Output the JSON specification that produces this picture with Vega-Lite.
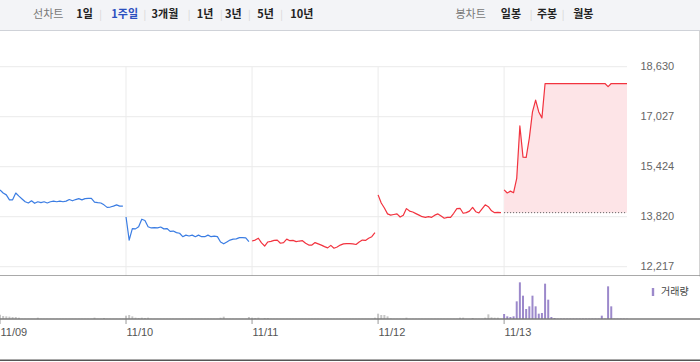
{
"$schema":"https://vega.github.io/schema/vega-lite/v6.json",
"background":"#ffffff",
"padding":0,
"spacing":0,
"bounds":"flush",
"config":{"view":{"stroke":null},"font":"Noto Sans CJK KR"},
"resolve":{"scale":{"color":"independent"}},
"datasets":{
"days":[{"t":"11/09 09:00"},{"t":"11/10 09:00"},{"t":"11/11 09:00"},{"t":"11/12 09:00"},{"t":"11/13 09:00"}],
"series":[
{"t":"11/09 09:00","d":"11/09","p":14680,"v":130},{"t":"11/09 09:10","d":"11/09","p":14580,"v":90},{"t":"11/09 09:20","d":"11/09","p":14520,"v":80},{"t":"11/09 09:30","d":"11/09","p":14360,"v":70},{"t":"11/09 09:40","d":"11/09","p":14360,"v":60},{"t":"11/09 09:50","d":"11/09","p":14580,"v":60},{"t":"11/09 10:00","d":"11/09","p":14480,"v":40},{"t":"11/09 10:10","d":"11/09","p":14390,"v":5},{"t":"11/09 10:20","d":"11/09","p":14300,"v":5},{"t":"11/09 10:30","d":"11/09","p":14260,"v":5},
{"t":"11/09 10:40","d":"11/09","p":14330,"v":5},{"t":"11/09 10:50","d":"11/09","p":14250,"v":5},{"t":"11/09 11:00","d":"11/09","p":14300,"v":40},{"t":"11/09 11:10","d":"11/09","p":14270,"v":5},{"t":"11/09 11:20","d":"11/09","p":14300,"v":5},{"t":"11/09 11:30","d":"11/09","p":14260,"v":5},{"t":"11/09 11:40","d":"11/09","p":14300,"v":5},{"t":"11/09 11:50","d":"11/09","p":14320,"v":5},{"t":"11/09 12:00","d":"11/09","p":14300,"v":5},{"t":"11/09 12:10","d":"11/09","p":14320,"v":5},
{"t":"11/09 12:20","d":"11/09","p":14300,"v":5},{"t":"11/09 12:30","d":"11/09","p":14320,"v":5},{"t":"11/09 12:40","d":"11/09","p":14370,"v":5},{"t":"11/09 12:50","d":"11/09","p":14330,"v":5},{"t":"11/09 13:00","d":"11/09","p":14370,"v":5},{"t":"11/09 13:10","d":"11/09","p":14400,"v":5},{"t":"11/09 13:20","d":"11/09","p":14360,"v":5},{"t":"11/09 13:30","d":"11/09","p":14400,"v":5},{"t":"11/09 13:40","d":"11/09","p":14410,"v":5},{"t":"11/09 13:50","d":"11/09","p":14410,"v":5},
{"t":"11/09 14:00","d":"11/09","p":14290,"v":40},{"t":"11/09 14:10","d":"11/09","p":14270,"v":5},{"t":"11/09 14:20","d":"11/09","p":14260,"v":5},{"t":"11/09 14:30","d":"11/09","p":14200,"v":30},{"t":"11/09 14:40","d":"11/09","p":14120,"v":5},{"t":"11/09 14:50","d":"11/09","p":14130,"v":5},{"t":"11/09 15:00","d":"11/09","p":14160,"v":5},{"t":"11/09 15:10","d":"11/09","p":14200,"v":5},{"t":"11/09 15:20","d":"11/09","p":14160,"v":5},{"t":"11/09 15:30","d":"11/09","p":14160,"v":5},
{"t":"11/10 09:00","d":"11/10","p":13810,"v":100},{"t":"11/10 09:10","d":"11/10","p":13070,"v":120},{"t":"11/10 09:20","d":"11/10","p":13440,"v":80},{"t":"11/10 09:30","d":"11/10","p":13430,"v":40},{"t":"11/10 09:40","d":"11/10","p":13500,"v":30},{"t":"11/10 09:50","d":"11/10","p":13740,"v":40},{"t":"11/10 10:00","d":"11/10","p":13700,"v":30},{"t":"11/10 10:10","d":"11/10","p":13500,"v":40},{"t":"11/10 10:20","d":"11/10","p":13460,"v":5},{"t":"11/10 10:30","d":"11/10","p":13470,"v":5},
{"t":"11/10 10:40","d":"11/10","p":13460,"v":5},{"t":"11/10 10:50","d":"11/10","p":13490,"v":5},{"t":"11/10 11:00","d":"11/10","p":13430,"v":5},{"t":"11/10 11:10","d":"11/10","p":13440,"v":5},{"t":"11/10 11:20","d":"11/10","p":13350,"v":5},{"t":"11/10 11:30","d":"11/10","p":13360,"v":5},{"t":"11/10 11:40","d":"11/10","p":13310,"v":5},{"t":"11/10 11:50","d":"11/10","p":13290,"v":5},{"t":"11/10 12:00","d":"11/10","p":13180,"v":5},{"t":"11/10 12:10","d":"11/10","p":13230,"v":5},
{"t":"11/10 12:20","d":"11/10","p":13200,"v":5},{"t":"11/10 12:30","d":"11/10","p":13230,"v":5},{"t":"11/10 12:40","d":"11/10","p":13180,"v":5},{"t":"11/10 12:50","d":"11/10","p":13230,"v":5},{"t":"11/10 13:00","d":"11/10","p":13180,"v":5},{"t":"11/10 13:10","d":"11/10","p":13180,"v":5},{"t":"11/10 13:20","d":"11/10","p":13230,"v":5},{"t":"11/10 13:30","d":"11/10","p":13180,"v":5},{"t":"11/10 13:40","d":"11/10","p":13200,"v":5},{"t":"11/10 13:50","d":"11/10","p":13180,"v":5},
{"t":"11/10 14:00","d":"11/10","p":13010,"v":40},{"t":"11/10 14:10","d":"11/10","p":12950,"v":70},{"t":"11/10 14:20","d":"11/10","p":13010,"v":5},{"t":"11/10 14:30","d":"11/10","p":13070,"v":5},{"t":"11/10 14:40","d":"11/10","p":13100,"v":5},{"t":"11/10 14:50","d":"11/10","p":13110,"v":5},{"t":"11/10 15:00","d":"11/10","p":13150,"v":5},{"t":"11/10 15:10","d":"11/10","p":13150,"v":5},{"t":"11/10 15:20","d":"11/10","p":13140,"v":5},{"t":"11/10 15:30","d":"11/10","p":13020,"v":60},
{"t":"11/11 09:00","d":"11/11","p":13040,"v":40},{"t":"11/11 09:10","d":"11/11","p":13070,"v":30},{"t":"11/11 09:20","d":"11/11","p":13130,"v":40},{"t":"11/11 09:30","d":"11/11","p":12980,"v":5},{"t":"11/11 09:40","d":"11/11","p":12880,"v":30},{"t":"11/11 09:50","d":"11/11","p":13010,"v":30},{"t":"11/11 10:00","d":"11/11","p":13030,"v":5},{"t":"11/11 10:10","d":"11/11","p":13060,"v":5},{"t":"11/11 10:20","d":"11/11","p":13070,"v":5},{"t":"11/11 10:30","d":"11/11","p":12970,"v":5},
{"t":"11/11 10:40","d":"11/11","p":12990,"v":5},{"t":"11/11 10:50","d":"11/11","p":13100,"v":5},{"t":"11/11 11:00","d":"11/11","p":13050,"v":5},{"t":"11/11 11:10","d":"11/11","p":13060,"v":5},{"t":"11/11 11:20","d":"11/11","p":13020,"v":5},{"t":"11/11 11:30","d":"11/11","p":13040,"v":5},{"t":"11/11 11:40","d":"11/11","p":13050,"v":5},{"t":"11/11 11:50","d":"11/11","p":12970,"v":5},{"t":"11/11 12:00","d":"11/11","p":12910,"v":5},{"t":"11/11 12:10","d":"11/11","p":12910,"v":5},
{"t":"11/11 12:20","d":"11/11","p":12990,"v":5},{"t":"11/11 12:30","d":"11/11","p":12950,"v":5},{"t":"11/11 12:40","d":"11/11","p":12910,"v":5},{"t":"11/11 12:50","d":"11/11","p":12860,"v":5},{"t":"11/11 13:00","d":"11/11","p":12820,"v":5},{"t":"11/11 13:10","d":"11/11","p":12900,"v":5},{"t":"11/11 13:20","d":"11/11","p":12810,"v":5},{"t":"11/11 13:30","d":"11/11","p":12850,"v":5},{"t":"11/11 13:40","d":"11/11","p":12910,"v":5},{"t":"11/11 13:50","d":"11/11","p":12950,"v":5},
{"t":"11/11 14:00","d":"11/11","p":12960,"v":5},{"t":"11/11 14:10","d":"11/11","p":12960,"v":5},{"t":"11/11 14:20","d":"11/11","p":12950,"v":5},{"t":"11/11 14:30","d":"11/11","p":12930,"v":5},{"t":"11/11 14:40","d":"11/11","p":13010,"v":5},{"t":"11/11 14:50","d":"11/11","p":13070,"v":5},{"t":"11/11 15:00","d":"11/11","p":13060,"v":5},{"t":"11/11 15:10","d":"11/11","p":13130,"v":5},{"t":"11/11 15:20","d":"11/11","p":13180,"v":5},{"t":"11/11 15:30","d":"11/11","p":13310,"v":40},
{"t":"11/12 09:00","d":"11/12","p":14520,"v":160},{"t":"11/12 09:10","d":"11/12","p":14260,"v":120},{"t":"11/12 09:20","d":"11/12","p":14100,"v":120},{"t":"11/12 09:30","d":"11/12","p":13910,"v":80},{"t":"11/12 09:40","d":"11/12","p":13870,"v":15},{"t":"11/12 09:50","d":"11/12","p":13890,"v":5},{"t":"11/12 10:00","d":"11/12","p":13910,"v":5},{"t":"11/12 10:10","d":"11/12","p":13810,"v":5},{"t":"11/12 10:20","d":"11/12","p":13870,"v":5},{"t":"11/12 10:30","d":"11/12","p":14080,"v":40},
{"t":"11/12 10:40","d":"11/12","p":14000,"v":5},{"t":"11/12 10:50","d":"11/12","p":13970,"v":5},{"t":"11/12 11:00","d":"11/12","p":13920,"v":5},{"t":"11/12 11:10","d":"11/12","p":13870,"v":5},{"t":"11/12 11:20","d":"11/12","p":13820,"v":5},{"t":"11/12 11:30","d":"11/12","p":13800,"v":5},{"t":"11/12 11:40","d":"11/12","p":13820,"v":5},{"t":"11/12 11:50","d":"11/12","p":13800,"v":5},{"t":"11/12 12:00","d":"11/12","p":13870,"v":5},{"t":"11/12 12:10","d":"11/12","p":13910,"v":5},
{"t":"11/12 12:20","d":"11/12","p":13840,"v":5},{"t":"11/12 12:30","d":"11/12","p":13770,"v":5},{"t":"11/12 12:40","d":"11/12","p":13800,"v":5},{"t":"11/12 12:50","d":"11/12","p":13800,"v":5},{"t":"11/12 13:00","d":"11/12","p":13930,"v":5},{"t":"11/12 13:10","d":"11/12","p":14080,"v":5},{"t":"11/12 13:20","d":"11/12","p":14090,"v":40},{"t":"11/12 13:30","d":"11/12","p":13930,"v":40},{"t":"11/12 13:40","d":"11/12","p":13950,"v":5},{"t":"11/12 13:50","d":"11/12","p":14000,"v":5},
{"t":"11/12 14:00","d":"11/12","p":14120,"v":30},{"t":"11/12 14:10","d":"11/12","p":13980,"v":5},{"t":"11/12 14:20","d":"11/12","p":13940,"v":5},{"t":"11/12 14:30","d":"11/12","p":14070,"v":5},{"t":"11/12 14:40","d":"11/12","p":14200,"v":40},{"t":"11/12 14:50","d":"11/12","p":14140,"v":140},{"t":"11/12 15:00","d":"11/12","p":14010,"v":50},{"t":"11/12 15:10","d":"11/12","p":13950,"v":40},{"t":"11/12 15:20","d":"11/12","p":13960,"v":40},{"t":"11/12 15:30","d":"11/12","p":13950,"v":5},
{"t":"11/13 09:00","d":"11/13","p":14680,"v":150},{"t":"11/13 09:10","d":"11/13","p":14580,"v":80},{"t":"11/13 09:20","d":"11/13","p":14640,"v":60},{"t":"11/13 09:30","d":"11/13","p":14590,"v":80},{"t":"11/13 09:40","d":"11/13","p":15050,"v":530},{"t":"11/13 09:50","d":"11/13","p":16730,"v":1100},{"t":"11/13 10:00","d":"11/13","p":15730,"v":700},{"t":"11/13 10:10","d":"11/13","p":15720,"v":300},{"t":"11/13 10:20","d":"11/13","p":16340,"v":380},{"t":"11/13 10:30","d":"11/13","p":17180,"v":700},
{"t":"11/13 10:40","d":"11/13","p":17560,"v":380},{"t":"11/13 10:50","d":"11/13","p":17180,"v":160},{"t":"11/13 11:00","d":"11/13","p":16990,"v":180},{"t":"11/13 11:10","d":"11/13","p":18090,"v":1060},{"t":"11/13 11:20","d":"11/13","p":18090,"v":580},{"t":"11/13 11:30","d":"11/13","p":18090,"v":60},{"t":"11/13 11:40","d":"11/13","p":18090,"v":30},{"t":"11/13 11:50","d":"11/13","p":18090,"v":10},{"t":"11/13 12:00","d":"11/13","p":18090,"v":10},{"t":"11/13 12:10","d":"11/13","p":18090,"v":10},
{"t":"11/13 12:20","d":"11/13","p":18090,"v":10},{"t":"11/13 12:30","d":"11/13","p":18090,"v":10},{"t":"11/13 12:40","d":"11/13","p":18090,"v":10},{"t":"11/13 12:50","d":"11/13","p":18090,"v":10},{"t":"11/13 13:00","d":"11/13","p":18090,"v":10},{"t":"11/13 13:10","d":"11/13","p":18090,"v":10},{"t":"11/13 13:20","d":"11/13","p":18090,"v":10},{"t":"11/13 13:30","d":"11/13","p":18090,"v":10},{"t":"11/13 13:40","d":"11/13","p":18090,"v":10},{"t":"11/13 13:50","d":"11/13","p":18090,"v":10},
{"t":"11/13 14:00","d":"11/13","p":18090,"v":10},{"t":"11/13 14:10","d":"11/13","p":18090,"v":100},{"t":"11/13 14:20","d":"11/13","p":18090,"v":10},{"t":"11/13 14:30","d":"11/13","p":17990,"v":980},{"t":"11/13 14:40","d":"11/13","p":18090,"v":380},{"t":"11/13 14:50","d":"11/13","p":18090,"v":10},{"t":"11/13 15:00","d":"11/13","p":18090,"v":10},{"t":"11/13 15:10","d":"11/13","p":18090,"v":10},{"t":"11/13 15:20","d":"11/13","p":18090,"v":10},{"t":"11/13 15:30","d":"11/13","p":18090,"v":10}
]},
"vconcat":[
{
"width":700,"height":30,
"view":{"fill":"#f3f4f7"},
"data":{"values":[
{"k":"선차트","kind":"title"},{"k":"1일","kind":"tab"},{"k":"|a","kind":"sep"},{"k":"1주일","kind":"active"},{"k":"|b","kind":"sep"},{"k":"3개월","kind":"tab"},{"k":"|c","kind":"sep"},{"k":"1년","kind":"tab"},{"k":"|d","kind":"sep"},{"k":"3년","kind":"tab"},{"k":"|e","kind":"sep"},{"k":"5년","kind":"tab"},{"k":"|f","kind":"sep"},{"k":"10년","kind":"tab"},
{"k":"봉차트","kind":"title"},{"k":"일봉","kind":"tab"},{"k":"|g","kind":"sep"},{"k":"주봉","kind":"tab"},{"k":"|h","kind":"sep"},{"k":"월봉","kind":"tab"}
]},
"encoding":{"x":{"field":"k","type":"nominal","axis":null,"scale":{"type":"point","padding":0,"domain":[
"s0","s1","s2","s3","s4","s5","s6","s7","s8","s9","s10","s11","선차트","s13","s14","s15","s16","s17","s18","s19",
"s20","1일","s22","s23","s24","|a","s26","s27","s28","s29","s30","1주일","s32","s33","s34","s35","|b","s37","s38","s39",
"s40","3개월","s42","s43","s44","s45","s46","|c","s48","s49","s50","1년","s52","s53","s54","|d","s56","s57","3년","s59",
"s60","s61","|e","s63","s64","s65","5년","s67","s68","s69","|f","s71","s72","s73","s74","10년","s76","s77","s78","s79",
"s80","s81","s82","s83","s84","s85","s86","s87","s88","s89","s90","s91","s92","s93","s94","s95","s96","s97","s98","s99",
"s100","s101","s102","s103","s104","s105","s106","s107","s108","s109","s110","s111","s112","s113","s114","s115","s116","봉차트","s118","s119",
"s120","s121","s122","s123","s124","s125","s126","일봉","s128","s129","s130","s131","|g","s133","s134","s135","주봉","s137","s138","s139",
"|h","s141","s142","s143","s144","월봉","s146","s147","s148","s149","s150","s151","s152","s153","s154","s155","s156","s157","s158","s159",
"s160","s161","s162","s163","s164","s165","s166","s167","s168","s169","s170","s171","s172","s173","s174"]}}},
"layer":[
{"transform":[{"filter":"datum.kind === 'title'"}],"mark":{"type":"text","font":"Noto Sans CJK KR","fontSize":11,"color":"#787878"},"encoding":{"text":{"field":"k"}}},
{"transform":[{"filter":"datum.kind === 'tab'"}],"mark":{"type":"text","font":"Noto Sans CJK KR","fontSize":11,"fontWeight":"bold","color":"#222222"},"encoding":{"text":{"field":"k"}}},
{"transform":[{"filter":"datum.kind === 'active'"}],"mark":{"type":"text","font":"Noto Sans CJK KR","fontSize":11,"fontWeight":"bold","color":"#2a4fbf"},"encoding":{"text":{"field":"k"}}},
{"transform":[{"filter":"datum.kind === 'sep'"}],"mark":{"type":"text","font":"Noto Sans CJK KR","fontSize":10,"color":"#d6d6d6"},"encoding":{"text":{"value":"|"}}}
]
},
{
"width":700,"height":246,
"layer":[
{"data":{"values":[{"g":12217,"t0":"11/09 09:00","t1":"11/13 15:30"},{"g":13820.25,"t0":"11/09 09:00","t1":"11/13 15:30"},{"g":15423.5,"t0":"11/09 09:00","t1":"11/13 15:30"},{"g":17026.75,"t0":"11/09 09:00","t1":"11/13 15:30"},{"g":18630,"t0":"11/09 09:00","t1":"11/13 15:30"}]},
"mark":{"type":"rule","color":"#ebebeb","strokeWidth":1,"clip":true},
"encoding":{"x":{"field":"t0","type":"nominal"},"x2":{"field":"t1"},
"y":{"field":"g","type":"quantitative","scale":{"domain":[11918.8,19806.8],"nice":false,"zero":false},
"axis":{"orient":"right","offset":-1,"values":[12217,13820.25,15423.5,17026.75,18630],"format":",.0f","domain":true,"domainColor":"#d4d4d4","domainWidth":1,"ticks":false,"tickSize":0,"grid":false,"labelPadding":-59,"labelAlign":"left","labelFont":"Liberation Sans","labelFontSize":11,"labelColor":"#666666","title":null}}}},
{"data":{"values":[{"t":"11/10 09:00"},{"t":"11/11 09:00"},{"t":"11/12 09:00"},{"t":"11/13 09:00"}]},
"mark":{"type":"rule","color":"#ebebeb","strokeWidth":1,"clip":true},
"encoding":{"x":{"field":"t","type":"nominal"},"y":{"datum":18630},"y2":{"datum":11918.8}}},
{"data":{"name":"series"},"transform":[{"filter":"datum.d === '11/13'"}],
"mark":{"type":"area","color":"#fde4e7","opacity":1,"clip":true},
"encoding":{"x":{"field":"t","type":"nominal"},"y":{"field":"p","type":"quantitative"},"y2":{"datum":13950}}},
{"data":{"values":[{"t0":"11/13 09:00","t1":"11/13 15:30","base":13950}]},
"mark":{"type":"rule","color":"#555555","strokeWidth":1,"strokeDash":[1,2],"clip":true},
"encoding":{"x":{"field":"t0","type":"nominal"},"x2":{"field":"t1"},"y":{"field":"base","type":"quantitative"}}},
{"data":{"name":"series"},
"mark":{"type":"line","strokeWidth":1.2,"strokeJoin":"round","clip":true},
"encoding":{
"x":{"field":"t","type":"nominal","scale":{"type":"point","padding":0,"align":0,"round":false,"range":[0,627]},
"axis":{"orient":"bottom","labels":false,"ticks":false,"grid":false,"domain":false,"title":null}},
"y":{"field":"p","type":"quantitative"},
"color":{"field":"d","type":"nominal","legend":null,"scale":{"domain":["11/09","11/10","11/11","11/12","11/13"],"range":["#3b7de3","#3b7de3","#f2333f","#f2333f","#f2333f"]}}}},
{"data":{"values":[{"z":1}]},"mark":{"type":"rule","color":"#8c8c8c","strokeWidth":1.5,"clip":true},"encoding":{"y":{"datum":11918.8}}},
{"data":{"values":[{"z":1}]},"mark":{"type":"rule","color":"#cfd2d8","strokeWidth":1,"clip":true},"encoding":{"y":{"datum":19790.8}}}
]
},
{
"width":700,"height":85,
"layer":[
{"data":{"name":"series"},
"mark":{"type":"bar","width":2,"clip":true},
"encoding":{
"x":{"field":"t","type":"nominal","scale":{"type":"point","padding":0,"align":0,"round":false,"range":[0,627]},
"axis":{"orient":"bottom","offset":-42,"values":["11/09 09:00","11/10 09:00","11/11 09:00","11/12 09:00","11/13 09:00"],"labelExpr":"substring(datum.value, 0, 5)","labelAlign":"left","labelAngle":0,"labelFont":"Liberation Sans","labelFontSize":11,"labelColor":"#555555","labelPadding":7,"ticks":false,"tickSize":0,"domain":false,"grid":false,"title":null}},
"y":{"field":"v","type":"quantitative","scale":{"domain":[-1260,1290],"nice":false,"zero":false},"axis":null},
"y2":{"datum":0},
"color":{"field":"d","type":"nominal","scale":{"domain":["11/09","11/10","11/11","11/12","11/13"],"range":["#c6c6c6","#c6c6c6","#c6c6c6","#c6c6c6","#9c89cb"]},
"legend":{"values":["11/13"],"labelExpr":"'거래량'","title":null,"orient":"top-right","offset":11,"padding":0,"symbolType":"M-0.3,-1H0.3V1H-0.3Z","symbolSize":64,"symbolStrokeWidth":0,"labelFont":"Noto Sans CJK KR","labelFontSize":10,"labelColor":"#444444","labelOffset":3}}}},
{"data":{"name":"days"},"mark":{"type":"rule","color":"#999999","strokeWidth":1,"clip":true},"encoding":{"x":{"field":"t","type":"nominal"},"y":{"datum":0},"y2":{"datum":-150}}},
{"data":{"values":[{"z":1}]},"mark":{"type":"rule","color":"#7a7a7a","strokeWidth":1.5,"clip":true},"encoding":{"y":{"datum":0}}},
{"data":{"values":[{"z":1}]},"mark":{"type":"rule","color":"#555555","strokeWidth":3,"clip":true},"encoding":{"y":{"datum":-1260}}}
]
}
]
}
